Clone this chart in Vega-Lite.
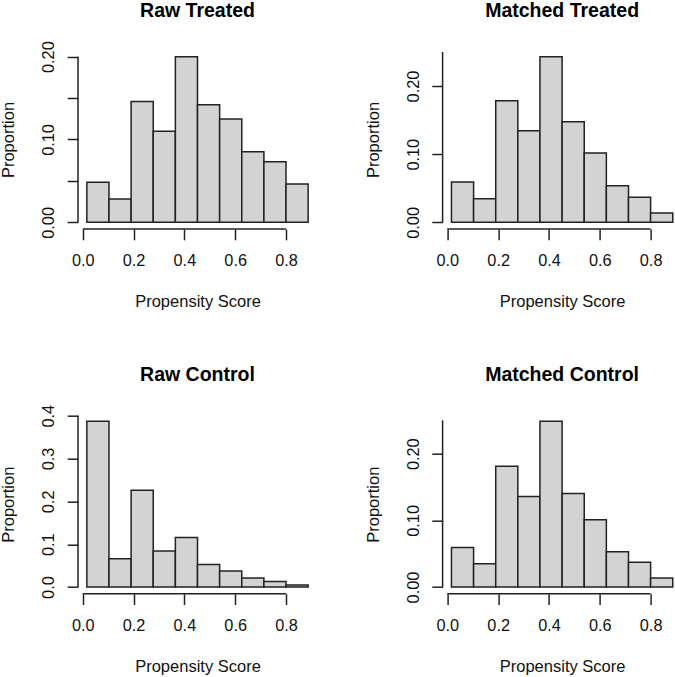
{
  "$schema": "https://vega.github.io/schema/vega-lite/v6.json",
  "background": "white",
  "padding": 0,
  "autosize": {"type": "pad"},
  "config": {
    "view": {"stroke": null},
    "axis": {"domain": false, "grid": false, "ticks": true, "tickSize": 10.8, "tickWidth": 1.5, "tickColor": "#222222", "labelFont": "Liberation Sans", "labelFontSize": 16.3, "labelColor": "#111111", "titleFont": "Liberation Sans", "titleFontSize": 16.5, "titleFontWeight": "normal", "titleColor": "#111111", "labelOverlap": false, "labelFlush": false},
    "title": {"font": "Liberation Sans", "fontSize": 19.5, "fontWeight": "bold", "color": "#000000", "anchor": "middle", "baseline": "alphabetic"}
  },
  "datasets": {
    "hist": [
      {"panel": "Raw Treated", "x0": 0.0163, "x1": 0.1034, "p": 0.0483},
      {"panel": "Raw Treated", "x0": 0.1034, "x1": 0.1905, "p": 0.0282},
      {"panel": "Raw Treated", "x0": 0.1905, "x1": 0.2775, "p": 0.146},
      {"panel": "Raw Treated", "x0": 0.2775, "x1": 0.3646, "p": 0.110},
      {"panel": "Raw Treated", "x0": 0.3646, "x1": 0.4517, "p": 0.200},
      {"panel": "Raw Treated", "x0": 0.4517, "x1": 0.5388, "p": 0.142},
      {"panel": "Raw Treated", "x0": 0.5388, "x1": 0.6259, "p": 0.1248},
      {"panel": "Raw Treated", "x0": 0.6259, "x1": 0.7130, "p": 0.0853},
      {"panel": "Raw Treated", "x0": 0.7130, "x1": 0.8000, "p": 0.0732},
      {"panel": "Raw Treated", "x0": 0.8000, "x1": 0.8871, "p": 0.0463},
      {"panel": "Matched Treated", "x0": 0.0163, "x1": 0.1034, "p": 0.0592},
      {"panel": "Matched Treated", "x0": 0.1034, "x1": 0.1905, "p": 0.0347},
      {"panel": "Matched Treated", "x0": 0.1905, "x1": 0.2775, "p": 0.1786},
      {"panel": "Matched Treated", "x0": 0.2775, "x1": 0.3646, "p": 0.1345},
      {"panel": "Matched Treated", "x0": 0.3646, "x1": 0.4517, "p": 0.2432},
      {"panel": "Matched Treated", "x0": 0.4517, "x1": 0.5388, "p": 0.1478},
      {"panel": "Matched Treated", "x0": 0.5388, "x1": 0.6259, "p": 0.1018},
      {"panel": "Matched Treated", "x0": 0.6259, "x1": 0.7130, "p": 0.0538},
      {"panel": "Matched Treated", "x0": 0.7130, "x1": 0.8000, "p": 0.0367},
      {"panel": "Matched Treated", "x0": 0.8000, "x1": 0.8871, "p": 0.0137},
      {"panel": "Raw Control", "x0": 0.0163, "x1": 0.1034, "p": 0.3868},
      {"panel": "Raw Control", "x0": 0.1034, "x1": 0.1905, "p": 0.066},
      {"panel": "Raw Control", "x0": 0.1905, "x1": 0.2775, "p": 0.226},
      {"panel": "Raw Control", "x0": 0.2775, "x1": 0.3646, "p": 0.0839},
      {"panel": "Raw Control", "x0": 0.3646, "x1": 0.4517, "p": 0.1157},
      {"panel": "Raw Control", "x0": 0.4517, "x1": 0.5388, "p": 0.0528},
      {"panel": "Raw Control", "x0": 0.5388, "x1": 0.6259, "p": 0.0373},
      {"panel": "Raw Control", "x0": 0.6259, "x1": 0.7130, "p": 0.021},
      {"panel": "Raw Control", "x0": 0.7130, "x1": 0.8000, "p": 0.0132},
      {"panel": "Raw Control", "x0": 0.8000, "x1": 0.8871, "p": 0.0047},
      {"panel": "Matched Control", "x0": 0.0163, "x1": 0.1034, "p": 0.0594},
      {"panel": "Matched Control", "x0": 0.1034, "x1": 0.1905, "p": 0.0349},
      {"panel": "Matched Control", "x0": 0.1905, "x1": 0.2775, "p": 0.1811},
      {"panel": "Matched Control", "x0": 0.2775, "x1": 0.3646, "p": 0.1357},
      {"panel": "Matched Control", "x0": 0.3646, "x1": 0.4517, "p": 0.2485},
      {"panel": "Matched Control", "x0": 0.4517, "x1": 0.5388, "p": 0.1402},
      {"panel": "Matched Control", "x0": 0.5388, "x1": 0.6259, "p": 0.1008},
      {"panel": "Matched Control", "x0": 0.6259, "x1": 0.7130, "p": 0.0529},
      {"panel": "Matched Control", "x0": 0.7130, "x1": 0.8000, "p": 0.0374},
      {"panel": "Matched Control", "x0": 0.8000, "x1": 0.8871, "p": 0.0135}
    ]
  },
  "columns": 2,
  "bounds": "flush",
  "spacing": {"row": 185.7, "column": 125.6},
  "concat": [
    {
      "title": {"text": "Raw Treated", "offset": 19.3},
      "width": 239, "height": 179,
      "layer": [
        {
          "data": {"name": "hist"},
          "transform": [{"filter": "datum.panel === 'Raw Treated'"}],
          "mark": {"type": "rect", "fill": "#D3D3D3", "stroke": "#222222", "strokeWidth": 1.5},
          "encoding": {
            "x": {"field": "x0", "type": "quantitative", "scale": {"domain": [-0.01854, 0.92194], "nice": false, "zero": false},
                  "axis": {"title": "Propensity Score", "values": [0, 0.2, 0.4, 0.6, 0.8], "format": ".1f", "labelAngle": 0, "labelBaseline": "top", "labelPadding": 12.5, "titleX": 119.5, "titleY": 77.8, "titleBaseline": "alphabetic", "titleAlign": "center"}},
            "x2": {"field": "x1"},
            "y": {"field": "p", "type": "quantitative", "scale": {"domain": [-0.008, 0.208], "nice": false, "zero": false},
                  "axis": {"title": "Proportion", "values": [0, 0.05, 0.1, 0.15, 0.2], "labelExpr": "round(datum.value*100) % 10 == 0 ? format(datum.value, '.2f') : ''", "labelAngle": 270, "labelAlign": "center", "labelBaseline": "alphabetic", "labelPadding": 13.6, "titleAngle": 270, "titleX": -64.2, "titleY": 89.5, "titleBaseline": "alphabetic", "titleAlign": "center"}},
            "y2": {"datum": 0}
          }
        },
        {
          "data": {"values": [{}]},
          "mark": {"type": "rule", "stroke": "#222222", "strokeWidth": 1.5},
          "encoding": {"x": {"datum": 0}, "x2": {"datum": 0.8}, "y": {"datum": -0.008}}
        },
        {
          "data": {"values": [{}]},
          "mark": {"type": "rule", "stroke": "#222222", "strokeWidth": 1.5},
          "encoding": {"x": {"datum": -0.01854}, "y": {"datum": 0}, "y2": {"datum": 0.2}}
        }
      ]
    },
    {
      "title": {"text": "Matched Treated", "offset": 28.8},
      "width": 239, "height": 179,
      "layer": [
        {
          "data": {"name": "hist"},
          "transform": [{"filter": "datum.panel === 'Matched Treated'"}],
          "mark": {"type": "rect", "fill": "#D3D3D3", "stroke": "#222222", "strokeWidth": 1.5},
          "encoding": {
            "x": {"field": "x0", "type": "quantitative", "scale": {"domain": [-0.01854, 0.92194], "nice": false, "zero": false},
                  "axis": {"title": "Propensity Score", "values": [0, 0.2, 0.4, 0.6, 0.8], "format": ".1f", "labelAngle": 0, "labelBaseline": "top", "labelPadding": 12.5, "titleX": 119.5, "titleY": 77.8, "titleBaseline": "alphabetic", "titleAlign": "center"}},
            "x2": {"field": "x1"},
            "y": {"field": "p", "type": "quantitative", "scale": {"domain": [-0.00973, 0.25293], "nice": false, "zero": false},
                  "axis": {"title": "Proportion", "values": [0, 0.05, 0.1, 0.15, 0.2, 0.25], "labelExpr": "round(datum.value*100) % 10 == 0 ? format(datum.value, '.2f') : ''", "labelAngle": 270, "labelAlign": "center", "labelBaseline": "alphabetic", "labelPadding": 13.6, "titleAngle": 270, "titleX": -64.2, "titleY": 89.5, "titleBaseline": "alphabetic", "titleAlign": "center"}},
            "y2": {"datum": 0}
          }
        },
        {
          "data": {"values": [{}]},
          "mark": {"type": "rule", "stroke": "#222222", "strokeWidth": 1.5},
          "encoding": {"x": {"datum": 0}, "x2": {"datum": 0.8}, "y": {"datum": -0.00973}}
        },
        {
          "data": {"values": [{}]},
          "mark": {"type": "rule", "stroke": "#222222", "strokeWidth": 1.5},
          "encoding": {"x": {"datum": -0.01854}, "y": {"datum": 0}, "y2": {"datum": 0.25}}
        }
      ]
    },
    {
      "title": {"text": "Raw Control", "offset": 18.9},
      "width": 239, "height": 179,
      "layer": [
        {
          "data": {"name": "hist"},
          "transform": [{"filter": "datum.panel === 'Raw Control'"}],
          "mark": {"type": "rect", "fill": "#D3D3D3", "stroke": "#222222", "strokeWidth": 1.5},
          "encoding": {
            "x": {"field": "x0", "type": "quantitative", "scale": {"domain": [-0.01854, 0.92194], "nice": false, "zero": false},
                  "axis": {"title": "Propensity Score", "values": [0, 0.2, 0.4, 0.6, 0.8], "format": ".1f", "labelAngle": 0, "labelBaseline": "top", "labelPadding": 12.5, "titleX": 119.5, "titleY": 77.8, "titleBaseline": "alphabetic", "titleAlign": "center"}},
            "x2": {"field": "x1"},
            "y": {"field": "p", "type": "quantitative", "scale": {"domain": [-0.01547, 0.40227], "nice": false, "zero": false},
                  "axis": {"title": "Proportion", "values": [0, 0.1, 0.2, 0.3, 0.4], "format": ".1f", "labelAngle": 270, "labelAlign": "center", "labelBaseline": "alphabetic", "labelPadding": 13.6, "titleAngle": 270, "titleX": -64.2, "titleY": 89.5, "titleBaseline": "alphabetic", "titleAlign": "center"}},
            "y2": {"datum": 0}
          }
        },
        {
          "data": {"values": [{}]},
          "mark": {"type": "rule", "stroke": "#222222", "strokeWidth": 1.5},
          "encoding": {"x": {"datum": 0}, "x2": {"datum": 0.8}, "y": {"datum": -0.01547}}
        },
        {
          "data": {"values": [{}]},
          "mark": {"type": "rule", "stroke": "#222222", "strokeWidth": 1.5},
          "encoding": {"x": {"datum": -0.01854}, "y": {"datum": 0}, "y2": {"datum": 0.4}}
        }
      ]
    },
    {
      "title": {"text": "Matched Control", "offset": 28.8},
      "width": 239, "height": 179,
      "layer": [
        {
          "data": {"name": "hist"},
          "transform": [{"filter": "datum.panel === 'Matched Control'"}],
          "mark": {"type": "rect", "fill": "#D3D3D3", "stroke": "#222222", "strokeWidth": 1.5},
          "encoding": {
            "x": {"field": "x0", "type": "quantitative", "scale": {"domain": [-0.01854, 0.92194], "nice": false, "zero": false},
                  "axis": {"title": "Propensity Score", "values": [0, 0.2, 0.4, 0.6, 0.8], "format": ".1f", "labelAngle": 0, "labelBaseline": "top", "labelPadding": 12.5, "titleX": 119.5, "titleY": 77.8, "titleBaseline": "alphabetic", "titleAlign": "center"}},
            "x2": {"field": "x1"},
            "y": {"field": "p", "type": "quantitative", "scale": {"domain": [-0.00994, 0.25844], "nice": false, "zero": false},
                  "axis": {"title": "Proportion", "values": [0, 0.05, 0.1, 0.15, 0.2, 0.25], "labelExpr": "round(datum.value*100) % 10 == 0 ? format(datum.value, '.2f') : ''", "labelAngle": 270, "labelAlign": "center", "labelBaseline": "alphabetic", "labelPadding": 13.6, "titleAngle": 270, "titleX": -64.2, "titleY": 89.5, "titleBaseline": "alphabetic", "titleAlign": "center"}},
            "y2": {"datum": 0}
          }
        },
        {
          "data": {"values": [{}]},
          "mark": {"type": "rule", "stroke": "#222222", "strokeWidth": 1.5},
          "encoding": {"x": {"datum": 0}, "x2": {"datum": 0.8}, "y": {"datum": -0.00994}}
        },
        {
          "data": {"values": [{}]},
          "mark": {"type": "rule", "stroke": "#222222", "strokeWidth": 1.5},
          "encoding": {"x": {"datum": -0.01854}, "y": {"datum": 0}, "y2": {"datum": 0.25}}
        }
      ]
    }
  ]
}
